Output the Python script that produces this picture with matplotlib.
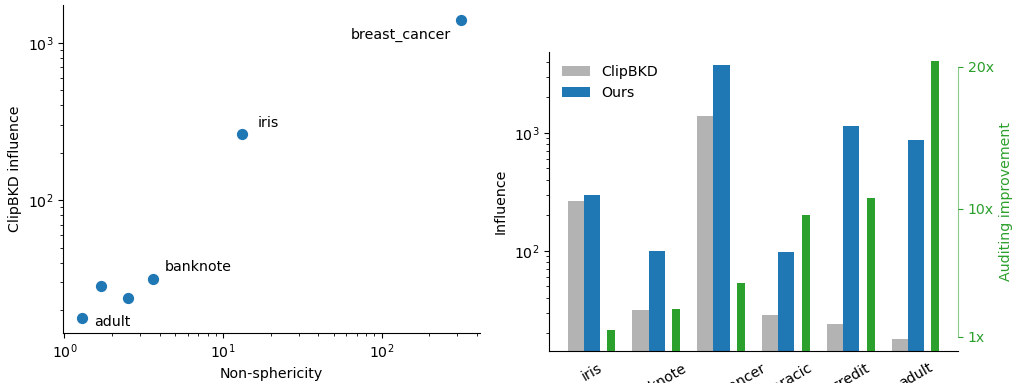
import matplotlib
matplotlib.use('agg')
import matplotlib.pyplot as plt
import numpy as np

datasets = ['iris', 'banknote', 'breast_cancer', 'thoracic', 'credit', 'adult']
non_sphericity = [13.2, 3.6, 317, 1.7, 2.5, 1.29]
clipbkd = [264, 31.5, 1400, 28.5, 24, 17.8]
ours = [299, 100, 3770, 98, 1146, 873]
improvement = [1.48, 2.96, 4.79, 9.58, 10.77, 20.4]

# which points get a text label in the scatter, and where (offset points)
labelled = {'iris': (11, 8, 'left'), 'banknote': (9, 9, 'left'),
            'adult': (9, -3, 'left'), 'breast_cancer': (-7, -11, 'right')}

plt.rcParams['font.size'] = 10.2

fig = plt.figure(figsize=(10.15, 3.83), dpi=100)

### left: non-sphericity vs ClipBKD influence
ax1 = fig.add_axes([63/1015, 50/383, 417/1015, 328/383])
ax1.scatter(non_sphericity, clipbkd, s=50, color='tab:blue', zorder=3)
for i, name in enumerate(datasets):
    if name in labelled:
        dx, dy, ha = labelled[name]
        ax1.annotate(name, (non_sphericity[i], clipbkd[i]), xytext=(dx, dy),
                     textcoords='offset points', ha=ha, va='center')
ax1.set_xscale('log')
ax1.set_yscale('log')
ax1.set_xlabel('Non-sphericity')
ax1.set_ylabel('ClipBKD influence')
ax1.spines['top'].set_visible(False)
ax1.spines['right'].set_visible(False)

### right: influence bars + auditing improvement
ax2 = fig.add_axes([549/1015, 32/383, 409/1015, 299/383])
x = np.arange(len(datasets))
w = 0.25
ax2.bar(x - w, clipbkd, w, color='#b3b3b3', label='ClipBKD')
ax2.bar(x, ours, w, color='tab:blue', label='Ours')
ax2.set_yscale('log')
ax2.set_ylim(14.2, 4850)
ax2.set_ylabel('Influence')
ax2.set_xticks(x)
ax2.set_xticklabels(datasets, rotation=30)
ax2.tick_params(axis='x', length=0, pad=7)
ax2.spines['top'].set_visible(False)
ax2.spines['right'].set_visible(False)
ax2.legend(loc='upper left', frameon=False)

twin = ax2.twinx()
twin.bar(x + 0.3, improvement, w / 2, color='tab:green')
twin.set_ylim(0, 21.03)
twin.set_yticks([1, 10, 20])
twin.set_yticklabels(['1x', '10x', '20x'])
twin.set_ylabel('Auditing improvement', color='tab:green')
twin.tick_params(axis='y', colors='tab:green')
for s in ['top', 'left', 'bottom']:
    twin.spines[s].set_visible(False)
twin.spines['right'].set_bounds(1, 20)
twin.spines['right'].set_color('tab:green')
twin.spines['right'].set_alpha(0.55)

fig.savefig('out.png', dpi=100)
